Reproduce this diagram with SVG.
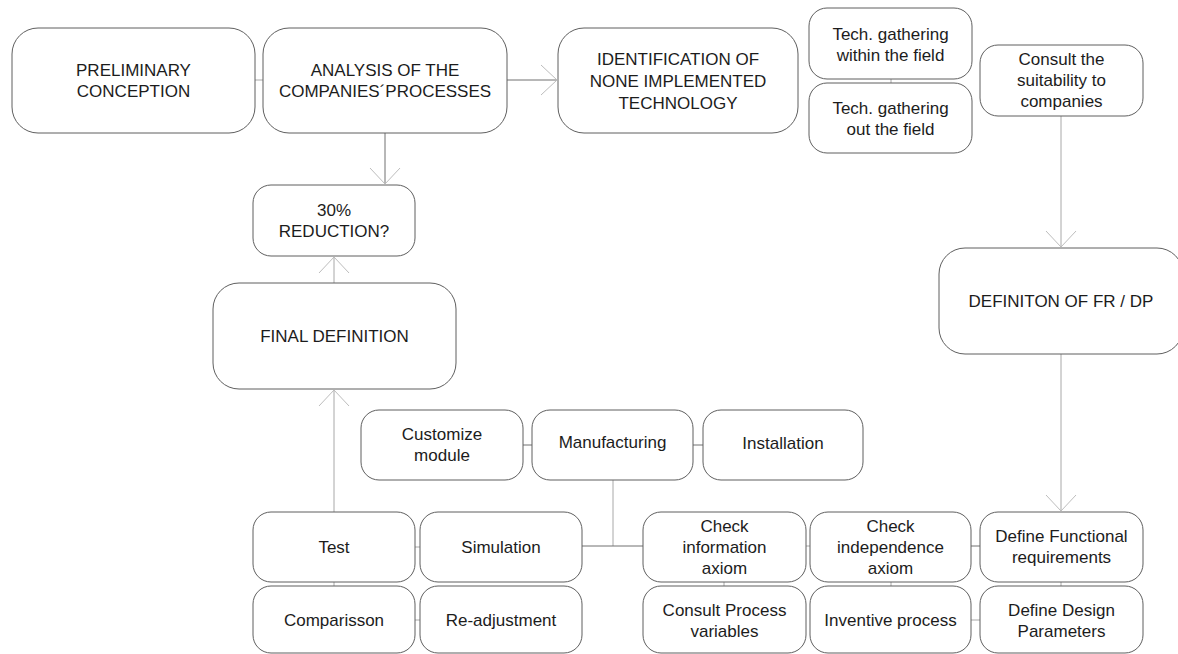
<svg xmlns="http://www.w3.org/2000/svg" width="1178" height="654" viewBox="0 0 1178 654">
  <style>
    .box { fill: #ffffff; stroke: #5f5f5f; stroke-width: 1; }
    .big { rx: 26px; ry: 26px; }
    .small { rx: 18px; ry: 18px; }
    .lbl { font-family: "Liberation Sans", Arial, sans-serif; font-size: 17px; fill: #1c1c1c; text-anchor: middle; }
    .conn { fill: none; stroke: #a8a8a8; stroke-width: 1; }
    .dark { stroke: #707070; }
    .head { fill: none; stroke: #bdbdbd; stroke-width: 1; }
  </style>
  <defs>
    <marker id="chev" viewBox="-20 -20 22 40" markerWidth="22" markerHeight="40" refX="0" refY="0" orient="auto" markerUnits="userSpaceOnUse">
      <path class="head" d="M-16,-15 L0,0 L-16,15"/>
    </marker>
  </defs>
  <rect width="1178" height="654" fill="#ffffff"/>

  <!-- connectors -->
  <g id="connectors">
    <line class="conn" x1="255" y1="80" x2="263" y2="80"/>
    <line class="conn dark" x1="507" y1="80" x2="557" y2="80" marker-end="url(#chev)"/>
    <line class="conn dark" x1="385" y1="133" x2="385" y2="184" marker-end="url(#chev)"/>
    <line class="conn" x1="334" y1="283" x2="334" y2="257" marker-end="url(#chev)"/>
    <line class="conn" x1="334" y1="512" x2="334" y2="390" marker-end="url(#chev)"/>
    <line class="conn" x1="334" y1="582" x2="334" y2="586"/>
    <line class="conn" x1="891" y1="79" x2="891" y2="83"/>
    <line class="conn" x1="1061" y1="116" x2="1061" y2="247" marker-end="url(#chev)"/>
    <line class="conn" x1="1061" y1="354" x2="1061" y2="511" marker-end="url(#chev)"/>
    <line class="conn dark" x1="523" y1="445" x2="532" y2="445"/>
    <line class="conn dark" x1="693" y1="445" x2="703" y2="445"/>
    <line class="conn" x1="613" y1="480" x2="613" y2="546"/>
    <line class="conn dark" x1="582" y1="546" x2="643" y2="546"/>
    <line class="conn" x1="415" y1="547" x2="420" y2="547"/>
    <line class="conn" x1="415" y1="620" x2="420" y2="620"/>
    <line class="conn" x1="724" y1="582" x2="724" y2="586"/>
    <line class="conn" x1="806" y1="546" x2="810" y2="546"/>
    <line class="conn" x1="891" y1="582" x2="891" y2="586"/>
    <line class="conn dark" x1="971" y1="546" x2="980" y2="546"/>
    <line class="conn" x1="971" y1="620" x2="980" y2="620"/>
    <line class="conn" x1="1061" y1="582" x2="1061" y2="586"/>
  </g>

  <!-- large stage boxes -->
  <g id="preliminary">
    <rect class="box big" x="12" y="28" width="243" height="105"/>
    <text class="lbl" x="133.5" y="76">PRELIMINARY</text>
    <text class="lbl" x="133.5" y="97">CONCEPTION</text>
  </g>
  <g id="analysis">
    <rect class="box big" x="263" y="28" width="244" height="105"/>
    <text class="lbl" x="385" y="76">ANALYSIS OF THE</text>
    <text class="lbl" x="385" y="97">COMPANIES´PROCESSES</text>
  </g>
  <g id="identification">
    <rect class="box big" x="558" y="28" width="240" height="105"/>
    <text class="lbl" x="678" y="65">IDENTIFICATION OF</text>
    <text class="lbl" x="678" y="87">NONE IMPLEMENTED</text>
    <text class="lbl" x="678" y="109">TECHNOLOGY</text>
  </g>
  <g id="final-definition">
    <rect class="box big" x="213" y="283" width="243" height="106"/>
    <text class="lbl" x="334.5" y="342">FINAL DEFINITION</text>
  </g>
  <g id="definition-fr-dp">
    <rect class="box big" x="939" y="248" width="244" height="106"/>
    <text class="lbl" x="1061" y="307">DEFINITON OF FR / DP</text>
  </g>

  <!-- smaller task boxes -->
  <g id="tech-within">
    <rect class="box small" x="809" y="8" width="163" height="71"/>
    <text class="lbl" x="890.5" y="40">Tech. gathering</text>
    <text class="lbl" x="890.5" y="61">within the field</text>
  </g>
  <g id="tech-out">
    <rect class="box small" x="809" y="83" width="163" height="70"/>
    <text class="lbl" x="890.5" y="114">Tech. gathering</text>
    <text class="lbl" x="890.5" y="135">out the field</text>
  </g>
  <g id="consult-suitability">
    <rect class="box small" x="980" y="45" width="163" height="71"/>
    <text class="lbl" x="1061.5" y="65">Consult the</text>
    <text class="lbl" x="1061.5" y="86">suitability to</text>
    <text class="lbl" x="1061.5" y="107">companies</text>
  </g>
  <g id="reduction">
    <rect class="box small" x="253" y="185" width="162" height="71"/>
    <text class="lbl" x="334" y="216">30%</text>
    <text class="lbl" x="334" y="237">REDUCTION?</text>
  </g>
  <g id="customize">
    <rect class="box small" x="361" y="410" width="162" height="70"/>
    <text class="lbl" x="442" y="440">Customize</text>
    <text class="lbl" x="442" y="461">module</text>
  </g>
  <g id="manufacturing">
    <rect class="box small" x="532" y="410" width="161" height="70"/>
    <text class="lbl" x="612.5" y="448">Manufacturing</text>
  </g>
  <g id="installation">
    <rect class="box small" x="703" y="410" width="160" height="70"/>
    <text class="lbl" x="783" y="449">Installation</text>
  </g>
  <g id="test">
    <rect class="box small" x="253" y="512" width="162" height="70"/>
    <text class="lbl" x="334" y="553">Test</text>
  </g>
  <g id="simulation">
    <rect class="box small" x="420" y="512" width="162" height="70"/>
    <text class="lbl" x="501" y="553">Simulation</text>
  </g>
  <g id="comparisson">
    <rect class="box small" x="253" y="586" width="162" height="67"/>
    <text class="lbl" x="334" y="626">Comparisson</text>
  </g>
  <g id="readjustment">
    <rect class="box small" x="420" y="586" width="162" height="67"/>
    <text class="lbl" x="501" y="626">Re-adjustment</text>
  </g>
  <g id="check-information">
    <rect class="box small" x="643" y="512" width="163" height="70"/>
    <text class="lbl" x="724.5" y="532">Check</text>
    <text class="lbl" x="724.5" y="553">information</text>
    <text class="lbl" x="724.5" y="574">axiom</text>
  </g>
  <g id="consult-process">
    <rect class="box small" x="643" y="586" width="163" height="67"/>
    <text class="lbl" x="724.5" y="616">Consult Process</text>
    <text class="lbl" x="724.5" y="637">variables</text>
  </g>
  <g id="check-independence">
    <rect class="box small" x="810" y="512" width="161" height="70"/>
    <text class="lbl" x="890.5" y="532">Check</text>
    <text class="lbl" x="890.5" y="553">independence</text>
    <text class="lbl" x="890.5" y="574">axiom</text>
  </g>
  <g id="inventive">
    <rect class="box small" x="810" y="586" width="161" height="67"/>
    <text class="lbl" x="890.5" y="626">Inventive process</text>
  </g>
  <g id="define-fr">
    <rect class="box small" x="980" y="512" width="163" height="70"/>
    <text class="lbl" x="1061.5" y="542">Define Functional</text>
    <text class="lbl" x="1061.5" y="563">requirements</text>
  </g>
  <g id="define-dp">
    <rect class="box small" x="980" y="586" width="163" height="67"/>
    <text class="lbl" x="1061.5" y="616">Define Design</text>
    <text class="lbl" x="1061.5" y="637">Parameters</text>
  </g>
</svg>
